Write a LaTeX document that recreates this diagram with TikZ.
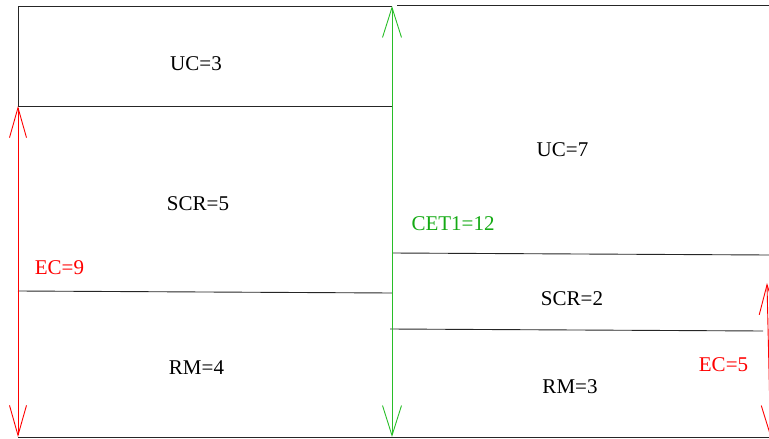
\documentclass[tikz,border=0pt]{standalone}
\usepackage{fontspec}
\setmainfont{Liberation Serif}
\newfontfamily\lblfont{Liberation Serif}
\usetikzlibrary{arrows.meta}
\definecolor{ecred}{RGB}{255,0,0}
\definecolor{cetgreen}{RGB}{20,170,20}
\definecolor{cetline}{RGB}{40,190,40}
\begin{document}
\begin{tikzpicture}[x=1pt,y=-1pt,
  lbl/.style={inner sep=0pt,font=\lblfont\fontsize{21}{25}\selectfont},
  edge/.style={line width=0.9pt,black!85},
  ecarrow/.style={line width=0.9pt,ecred,{Straight Barb[length=30pt,width=17pt]}-{Straight Barb[length=30pt,width=17pt]}},
  cetarrow/.style={line width=0.9pt,cetline,{Straight Barb[length=30pt,width=19pt]}-{Straight Barb[length=30pt,width=19pt]}}]
\useasboundingbox (0,0) rectangle (769,439);
% coordinates
\coordinate (tl) at (18,6);
\coordinate (tm) at (392,6);
\coordinate (tr0) at (397,5);
\coordinate (tr) at (769,5);
\coordinate (l1) at (18,106);
\coordinate (m1) at (392,106);
\coordinate (l2) at (18,291);
\coordinate (m2) at (392,293);
\coordinate (lb) at (18,437);
\coordinate (rb) at (769,437);
\coordinate (mb) at (392,437);
\coordinate (r1a) at (392,253);
\coordinate (r1b) at (769,255);
\coordinate (r2a) at (390,329);
\coordinate (r2b) at (763,331);
\coordinate (ect) at (767,283);
\coordinate (ecb) at (770.5,437);
% box lines
\draw[edge] (l1) -- (tl) -- (tm);
\draw[edge] (tr0) -- (tr);
\draw[edge] (l1) -- (m1);
\draw[edge] (l2) -- (m2);
\draw[edge] (lb) -- (rb);
\draw[edge] (r1a) -- (r1b);
\draw[edge] (r2a) -- (r2b);
% arrows
\draw[ecarrow] (l1) -- (lb);
\draw[cetarrow] (tm) -- (mb);
\draw[ecarrow] (ect) -- (ecb);
% labels
\node[lbl] (uc3) at (196,64) {UC=3};
\node[lbl] (scr5) at (198,204) {SCR=5};
\node[lbl,text=ecred] (ec9) at (59.5,268) {EC=9};
\node[lbl] (rm4) at (196.5,368) {RM=4};
\node[lbl] (uc7) at (562.5,150) {UC=7};
\node[lbl,text=cetgreen] (cet) at (453,224) {CET1=12};
\node[lbl] (scr2) at (572,299) {SCR=2};
\node[lbl,text=ecred] (ec5) at (723.5,365) {EC=5};
\node[lbl] (rm3) at (570,387) {RM=3};
\end{tikzpicture}
\end{document}
